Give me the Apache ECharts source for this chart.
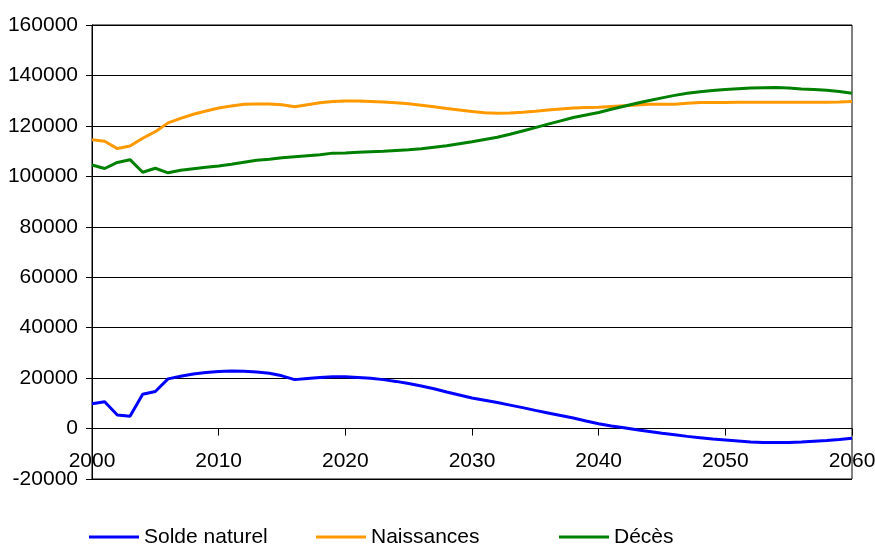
<!DOCTYPE html>
<html>
<head>
<meta charset="utf-8">
<script src="https://cdn.jsdelivr.net/npm/echarts@6/dist/echarts.min.js"></script>
<style>
html,body{margin:0;padding:0;background:#fff;overflow:hidden;}
#c{width:875px;height:545px;}
</style>
</head>
<body>
<div id="c"></div>
<script>
var years = [];
for (var y = 2000; y <= 2060; y++) years.push(y);

var seriesNames = ['Solde naturel', 'Naissances', 'Décès'];

var soldeNaturel = [9800, 10600, 5400, 4900, 13600, 14700, 19700, 20700, 21600, 22200,
  22600, 22800, 22700, 22400, 21900, 20900, 19400, 19800, 20200, 20500,
  20500, 20200, 19900, 19400, 18700, 17900, 16900, 15800, 14500, 13300,
  12100, 11200, 10300, 9300, 8300, 7200, 6200, 5200, 4200, 3000,
  1900, 1000, 300, -500, -1200, -1900, -2500, -3100, -3600, -4100,
  -4500, -4900, -5300, -5500, -5500, -5500, -5300, -5000, -4700, -4300,
  -3800];

var naissances = [114500, 113900, 111000, 112000, 115100, 117700, 121200, 123000, 124600, 125900,
  127100, 127900, 128600, 128700, 128700, 128400, 127600, 128400, 129200, 129700,
  129900, 129900, 129700, 129500, 129200, 128800, 128200, 127600, 126900, 126300,
  125700, 125200, 125000, 125100, 125400, 125800, 126300, 126700, 127100, 127300,
  127400, 127700, 128000, 128300, 128600, 128600, 128600, 129000, 129300, 129300,
  129300, 129400, 129400, 129400, 129400, 129400, 129400, 129400, 129400, 129500,
  129700];

var deces = [104500, 103100, 105500, 106600, 101600, 103200, 101400, 102400, 103000, 103600,
  104100, 104800, 105600, 106400, 106800, 107400, 107800, 108200, 108600, 109200,
  109300, 109500, 109700, 109900, 110200, 110500, 110900, 111500, 112100, 112900,
  113700, 114600, 115500, 116700, 118000, 119300, 120700, 122000, 123300, 124300,
  125300, 126600, 127800, 129000, 130100, 131100, 132100, 132900, 133500, 134000,
  134400, 134700, 135000, 135100, 135200, 135000, 134600, 134400, 134100, 133600,
  132900];

var colors = ['#0000FF', '#FF9900', '#008000'];
var FONT = "'Liberation Sans', Arial, Helvetica, sans-serif";

function pairs(vals) {
  return years.map(function (yr, i) { return [yr, vals[i]]; });
}
function plain(v) { return String(v); }

var allVals = [soldeNaturel, naissances, deces];
var legendLefts = [89, 316, 559];

var chart = echarts.init(document.getElementById('c'), null, {renderer: 'canvas'});
chart.setOption({
  animation: false,
  backgroundColor: '#ffffff',
  textStyle: {fontFamily: FONT},
  grid: {
    left: 92, right: 23, top: 25, bottom: 66,
    containLabel: false,
    outerBoundsMode: 'none',
    show: true, borderColor: '#000', borderWidth: 1, backgroundColor: '#fff'
  },
  legend: seriesNames.map(function (n, i) {
    return {
      data: [n],
      left: legendLefts[i],
      top: 526,
      padding: 0,
      icon: 'rect',
      itemWidth: 50,
      itemHeight: 3,
      itemGap: 0,
      selectedMode: false,
      textStyle: {fontFamily: FONT, fontSize: 21, color: '#000', lineHeight: 22}
    };
  }),
  xAxis: {
    type: 'value',
    min: 2000, max: 2060, interval: 10,
    axisLine: {show: true, onZero: true, onZeroAxisIndex: 0, lineStyle: {color: '#000', width: 1}},
    axisTick: {show: true, inside: false, length: 7, lineStyle: {color: '#000'}},
    axisLabel: {fontFamily: FONT, fontSize: 21, color: '#000', margin: -28, formatter: plain},
    splitLine: {show: false}
  },
  yAxis: {
    type: 'value',
    min: -20000, max: 160000, interval: 20000,
    axisLine: {show: true, onZero: false, lineStyle: {color: '#000', width: 1}},
    axisTick: {show: true, inside: false, length: 6, lineStyle: {color: '#000'}},
    axisLabel: {fontFamily: FONT, fontSize: 21, color: '#000', margin: 14, formatter: plain},
    splitLine: {show: true, lineStyle: {color: '#000', width: 1}}
  },
  series: seriesNames.map(function (n, i) {
    return {
      name: n,
      type: 'line',
      data: pairs(allVals[i]),
      showSymbol: false,
      symbol: 'none',
      color: colors[i],
      lineStyle: {color: colors[i], width: 3},
      itemStyle: {color: colors[i]}
    };
  })
});
</script>
</body>
</html>
